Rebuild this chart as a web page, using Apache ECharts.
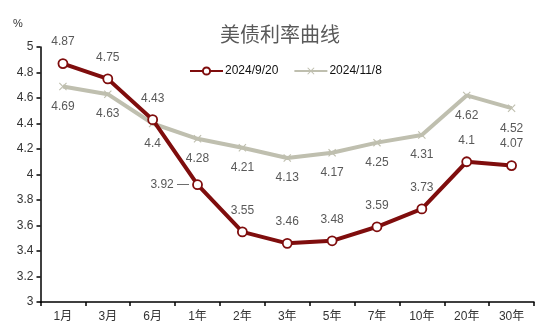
<!DOCTYPE html>
<html>
<head>
<meta charset="utf-8">
<script src="https://cdn.jsdelivr.net/npm/echarts@6/dist/echarts.min.js"></script>
<style>html,body{margin:0;padding:0;background:#fff;}#c{width:550px;height:336px;}</style>
</head>
<body>
<div id="c"></div>
<script>
var categories = ['1月','3月','6月','1年','2年','3年','5年','7年','10年','20年','30年'];
var series1Name = '2024/9/20';
var series1 = [4.87,4.75,4.43,3.92,3.55,3.46,3.48,3.59,3.73,4.1,4.07];
var series2Name = '2024/11/8';
var series2 = [4.69,4.63,4.4,4.28,4.21,4.13,4.17,4.25,4.31,4.62,4.52];
var yTicks = {min:3, max:5, interval:0.2};

var FONT = '"Liberation Sans", Arial, "Noto Sans CJK SC", sans-serif';
var RED = '#7F0D0D';
var GRAY = '#BFBFAF';
var LBL = '#595959';
var XSYM = 'path://M0,1L1,0L5,4L9,0L10,1L6,5L10,9L9,10L5,6L1,10L0,9L4,5Z';

var s1data = series1.map(function(v, i){
  if (i === 3) {
    return {value: v, label: {position: 'left', distance: 3, formatter: '{c} —'}};
  }
  return v;
});

var chart = echarts.init(document.getElementById('c'), null, {renderer:'canvas'});
chart.setOption({
  animation: false,
  backgroundColor: '#fff',
  textStyle: {fontFamily: FONT},
  title: {
    text: '美债利率曲线', left: 215, top: 21,
    textStyle: {fontSize: 20, fontWeight: 'normal', color: LBL, fontFamily: FONT}
  },
  graphic: [{type:'text', left: 13, top: 18, style:{text:'%', fontSize: 11, fill:'#333', font: '11px ' + FONT}}],
  legend: {
    left: 184, top: 60, itemGap: 15, itemWidth: 33, itemHeight: 9,
    textStyle: {fontSize: 12, color: '#111', fontFamily: FONT, padding:[0,0,0,-3]},
    data: [series1Name, series2Name]
  },
  grid: {left: 40.5, right: 16, top: 47, bottom: 34, containLabel: false},
  xAxis: {
    type: 'category', data: categories, boundaryGap: true,
    axisLine: {lineStyle: {color: '#000', width: 1.5}},
    axisTick: {show: true, length: 4, lineStyle:{color:'#000', width: 1.5}},
    axisLabel: {color: '#333', fontSize: 12, margin: 9, fontFamily: FONT},
    splitLine: {show: false}
  },
  yAxis: {
    type: 'value', min: yTicks.min, max: yTicks.max, interval: yTicks.interval,
    axisLine: {show: true, lineStyle: {color: '#000', width: 1.5}},
    axisTick: {show: true, length: 4, lineStyle:{color:'#000', width: 1.5}},
    axisLabel: {color: '#333', fontSize: 12, margin: 7, fontFamily: FONT},
    splitLine: {show: false}
  },
  series: [
    {
      name: series2Name, type: 'line', data: series2, z: 2,
      symbol: XSYM, symbolSize: 8,
      lineStyle: {color: GRAY, width: 4},
      itemStyle: {color: GRAY},
      label: {show: true, position: 'bottom', distance: 10, color: LBL, fontSize: 12, fontFamily: FONT}
    },
    {
      name: series1Name, type: 'line', data: s1data, z: 3,
      symbol: 'circle', symbolSize: 9,
      lineStyle: {color: RED, width: 4},
      itemStyle: {color: '#fff', borderColor: RED, borderWidth: 1.8},
      label: {show: true, position: 'top', distance: 10, color: LBL, fontSize: 12, fontFamily: FONT}
    }
  ]
});
</script>
</body>
</html>
